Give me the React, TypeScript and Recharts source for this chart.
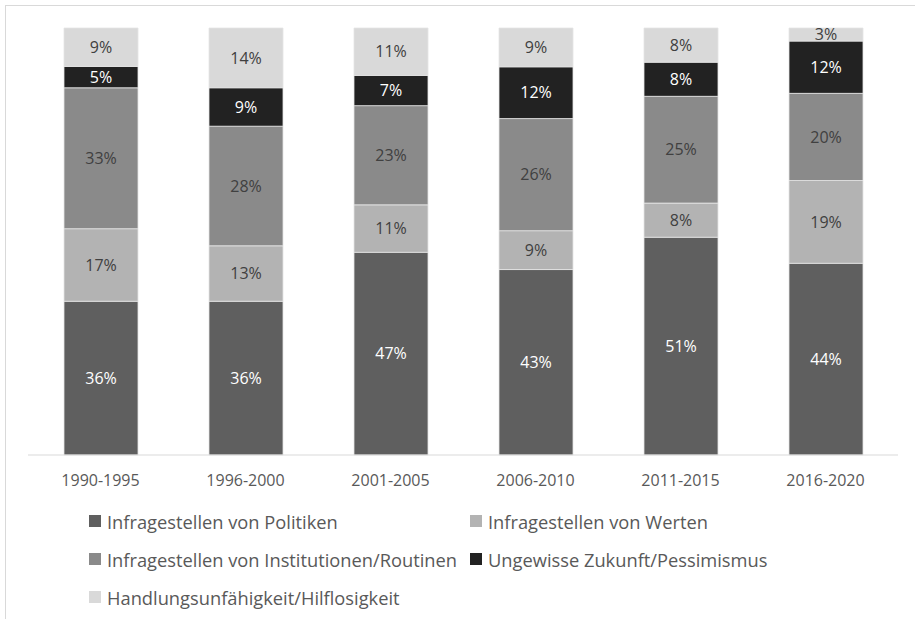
import React from 'react';
import { BarChart, Bar, XAxis, YAxis, LabelList } from 'recharts';

const periods = ['1990-1995', '1996-2000', '2001-2005', '2006-2010', '2011-2015', '2016-2020'];

const politiken = [36, 36, 47, 43, 51, 44];
const werten = [17, 13, 11, 9, 8, 19];
const institutionen = [33, 28, 23, 26, 25, 20];
const zukunft = [5, 9, 7, 12, 8, 12];
const handlung = [9, 14, 11, 9, 8, 3];

const series = [
  { key: 'politiken', name: 'Infragestellen von Politiken', color: '#5f5f5f', text: '#ffffff' },
  { key: 'werten', name: 'Infragestellen von Werten', color: '#b3b3b3', text: '#404040' },
  { key: 'institutionen', name: 'Infragestellen von Institutionen/Routinen', color: '#8a8a8a', text: '#404040' },
  { key: 'zukunft', name: 'Ungewisse Zukunft/Pessimismus', color: '#222222', text: '#ffffff' },
  { key: 'handlung', name: 'Handlungsunfähigkeit/Hilflosigkeit', color: '#d9d9d9', text: '#404040' },
];

const data = periods.map((p, i) => ({
  period: p,
  politiken: politiken[i],
  werten: werten[i],
  institutionen: institutionen[i],
  zukunft: zukunft[i],
  handlung: handlung[i],
}));

const font = '"Open Sans", sans-serif';

// legend laid out in two columns like the original
const legendRows = [
  [series[0], series[1]],
  [series[2], series[3]],
  [series[4]],
];

function LegendBox() {
  return (
    <div style={{ position: 'absolute', left: 89, top: 502, fontFamily: font, fontSize: 18.3, color: '#595959' }}>
      {legendRows.map((row, r) => (
        <div key={r} style={{ display: 'flex', height: 38, alignItems: 'center' }}>
          {row.map((s, c) => (
            <div key={s.key} style={{ display: 'flex', alignItems: 'center', width: c === 0 ? 381 : 'auto', whiteSpace: 'nowrap' }}>
              <span style={{ display: 'inline-block', width: 12, height: 12, background: s.color, marginRight: 6 }} />
              <span>{s.name}</span>
            </div>
          ))}
        </div>
      ))}
    </div>
  );
}

export default function App() {
  return (
    <div style={{ position: 'absolute', left: 0, top: 0, width: 915, height: 619, overflow: 'hidden', background: '#fff' }}>
      <div style={{ position: 'absolute', left: 5, top: 5, width: 930, height: 640, border: '1px solid #d9d9d9' }} />
      <div style={{ position: 'absolute', left: 0, top: 0 }}>
        <BarChart
          width={915}
          height={619}
          data={data}
          stackOffset="expand"
          margin={{ top: 28, right: 17, bottom: 134, left: 28 }}
        >
          <XAxis
            dataKey="period"
            axisLine={{ stroke: '#d9d9d9' }}
            tickLine={false}
            tick={{ fill: '#595959', fontSize: 16, fontFamily: font }}
            tickMargin={14}
            height={30}
          />
          <YAxis hide domain={[0, 1]} />
          {series.map((s) => (
            <Bar
              key={s.key}
              dataKey={s.key}
              name={s.name}
              stackId="a"
              fill={s.color}
              stroke="#e4e4e4"
              strokeWidth={0.8}
              barSize={74}
              isAnimationActive={false}
            >
              <LabelList
                dataKey={s.key}
                position="center"
                formatter={(v: any) => `${v}%`}
                fill={s.text}
                fontSize={16}
                fontFamily={font}
              />
            </Bar>
          ))}
        </BarChart>
      </div>
      <LegendBox />
    </div>
  );
}
